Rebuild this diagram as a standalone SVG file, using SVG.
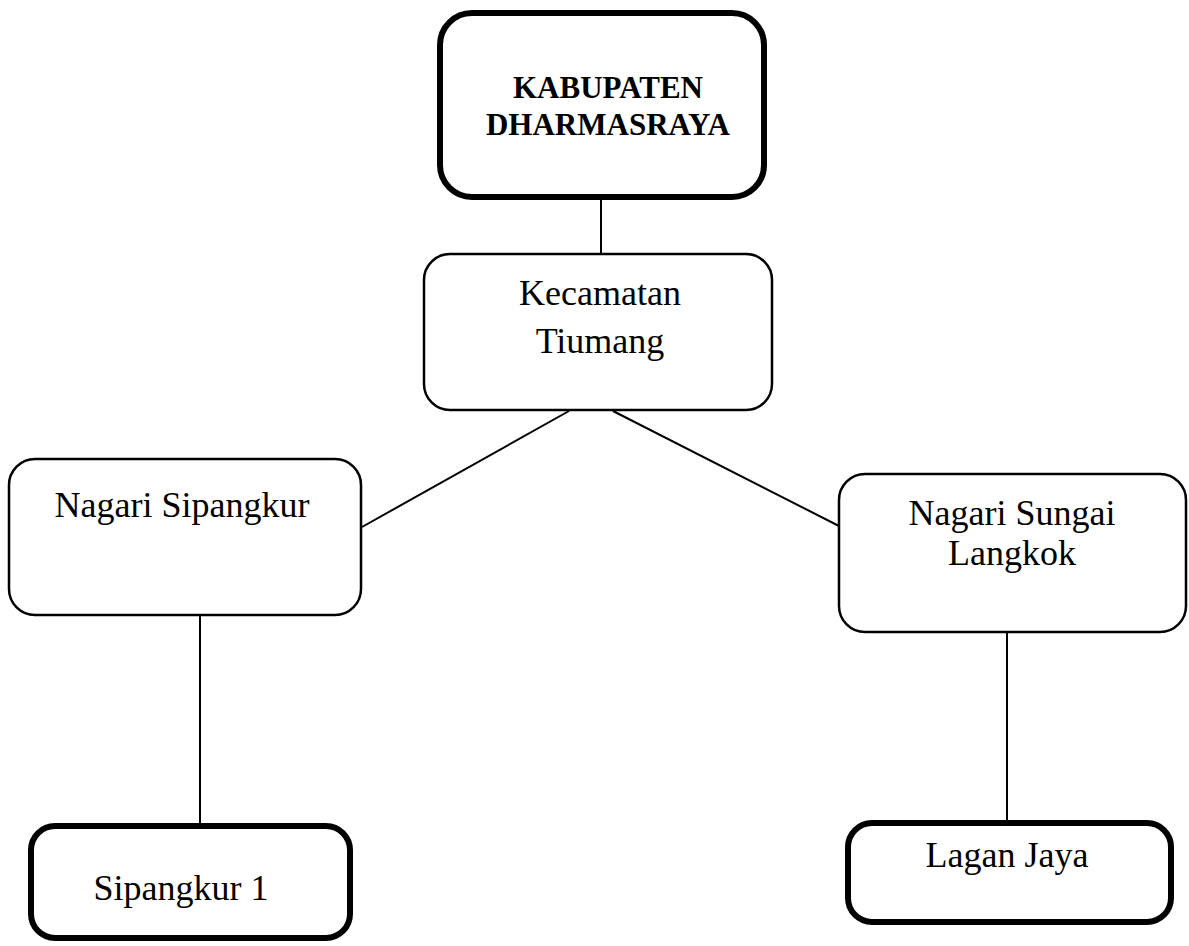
<svg xmlns="http://www.w3.org/2000/svg" width="1189" height="946" viewBox="0 0 1189 946">
<style>
.thin{fill:#fff;stroke:#000;stroke-width:2.5}
.thick{fill:#fff;stroke:#000;stroke-width:6}
.t{font-family:"Liberation Serif","Times New Roman",serif;font-size:36px;fill:#000;text-anchor:middle}
.b{font-weight:bold;font-size:31px}
.c{stroke:#000;stroke-width:2;fill:none}
</style>
<rect width="1189" height="946" fill="#fff"/>
<g id="connectors">
<line class="c" x1="601" y1="199" x2="601" y2="254"/>
<line class="c" x1="569" y1="411" x2="362" y2="527"/>
<line class="c" x1="613" y1="411" x2="839" y2="526"/>
<line class="c" x1="200" y1="615" x2="200" y2="824"/>
<line class="c" x1="1007" y1="632" x2="1007" y2="822"/>
</g>
<g id="kabupaten">
<rect class="thick" x="440" y="13" width="324" height="184" rx="32"/>
<text class="t b" x="608" y="98">KABUPATEN</text>
<text class="t b" x="608" y="135">DHARMASRAYA</text>
</g>
<g id="kecamatan">
<rect class="thin" x="424" y="254" width="348" height="156" rx="26"/>
<text class="t" x="600" y="305">Kecamatan</text>
<text class="t" x="600" y="353">Tiumang</text>
</g>
<g id="sipangkur">
<rect class="thin" x="9" y="459" width="352" height="156" rx="26"/>
<text class="t" x="182" y="517">Nagari Sipangkur</text>
</g>
<g id="sungai-langkok">
<rect class="thin" x="839" y="474" width="347" height="158" rx="26"/>
<text class="t" x="1012" y="525">Nagari Sungai</text>
<text class="t" x="1012" y="565">Langkok</text>
</g>
<g id="sipangkur1">
<rect class="thick" x="31" y="826" width="319" height="112" rx="24"/>
<text class="t" x="181" y="900">Sipangkur 1</text>
</g>
<g id="lagan-jaya">
<rect class="thick" x="848" y="823" width="323" height="99" rx="24"/>
<text class="t" x="1007" y="867">Lagan Jaya</text>
</g>
</svg>
